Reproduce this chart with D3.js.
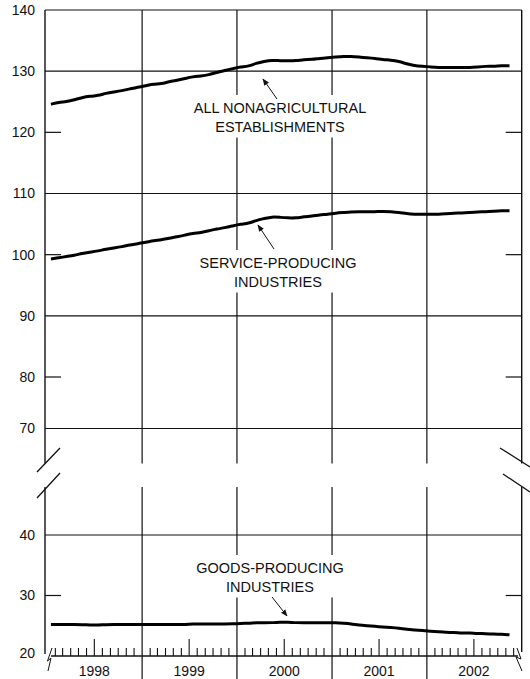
<!DOCTYPE html>
<html>
<head>
<meta charset="utf-8">
<script src="https://cdn.jsdelivr.net/npm/d3@7/dist/d3.min.js"></script>
<style>
  html, body { margin: 0; padding: 0; background: #fff; }
  svg { display: block; }
  text { font-family: "Liberation Sans", Arial, sans-serif; fill: #111; }
</style>
</head>
<body>
<svg id="chart" width="530" height="679"></svg>
<script>
// ---------------- DATA ----------------
const startMonth = "1998-01";
const endMonth = "2002-11";
const yearLabels = ["1998", "1999", "2000", "2001", "2002"];

// Employment, millions, monthly Jan 1998 - Nov 2002
const allNonag = [
  124.6, 124.9, 125.0, 125.3, 125.7, 125.9, 126.0, 126.4, 126.6, 126.8, 127.1, 127.4,
  127.6, 127.9, 127.9, 128.3, 128.5, 128.8, 129.1, 129.2, 129.4, 129.8, 130.1, 130.4,
  130.7, 130.8, 131.3, 131.6, 131.8, 131.7, 131.7, 131.7, 131.9, 131.9, 132.1, 132.2,
  132.3, 132.4, 132.4, 132.3, 132.2, 132.1, 131.9, 131.8, 131.6, 131.2, 130.9, 130.8,
  130.7, 130.6, 130.6, 130.6, 130.6, 130.6, 130.7, 130.8, 130.8, 130.9, 130.9
];
const serviceProducing = [
  99.3, 99.5, 99.7, 99.9, 100.2, 100.4, 100.6, 100.9, 101.1, 101.3, 101.6, 101.8,
  102.0, 102.3, 102.4, 102.7, 102.9, 103.2, 103.5, 103.6, 103.9, 104.2, 104.4, 104.7,
  105.0, 105.1, 105.6, 105.9, 106.2, 106.1, 106.0, 106.0, 106.2, 106.3, 106.5, 106.6,
  106.8, 106.9, 107.0, 107.0, 107.0, 107.0, 107.1, 107.0, 106.9, 106.7, 106.6, 106.6,
  106.6, 106.6, 106.7, 106.8, 106.8, 106.9, 107.0, 107.0, 107.1, 107.2, 107.2
];
const goodsProducing = [
  25.2, 25.2, 25.2, 25.2, 25.2, 25.1, 25.1, 25.2, 25.2, 25.2, 25.2, 25.2,
  25.2, 25.2, 25.2, 25.2, 25.2, 25.2, 25.3, 25.3, 25.3, 25.3, 25.3, 25.3,
  25.4, 25.4, 25.5, 25.5, 25.5, 25.6, 25.6, 25.5, 25.5, 25.5, 25.5, 25.5,
  25.5, 25.4, 25.3, 25.1, 25.0, 24.9, 24.8, 24.7, 24.6, 24.4, 24.3, 24.2,
  24.1, 24.0, 23.9, 23.9, 23.8, 23.8, 23.7, 23.7, 23.6, 23.6, 23.5
];

const topGridValues = [140, 130, 110, 90, 70];
const topMinorValues = [120, 100, 80];
const topLabels = [140, 130, 120, 110, 100, 90, 80, 70];
const bottomGridValues = [40];
const bottomMinorValues = [30];
const bottomLabels = [40, 30, 20];

// ---------------- SETUP ----------------
const svg = d3.select("#chart");
const parseMonth = d3.timeParse("%Y-%m");
const months = d3.timeMonth.range(parseMonth(startMonth), d3.timeMonth.offset(parseMonth(endMonth), 1));
const plotDate = m => d3.timeDay.offset(m, 14);

const x = d3.scaleTime()
  .domain([new Date(1998, 0, 1), new Date(2003, 0, 1)])
  .range([47.3, 521.7]);
const yTop = d3.scaleLinear().domain([70, 80, 140]).range([428.5, 377, 10]);
const yBot = d3.scaleLinear().domain([20, 40]).range([656, 535]);

const xL = 45, xR = x.range()[1];
const yTopEdge = yTop(140), yAxis = yBot(20);
const gridW = 1.2;

const g = svg.append("g");

// horizontal gridlines
g.selectAll(".hgT").data(topGridValues).join("line")
  .attr("x1", xL).attr("x2", xR)
  .attr("y1", d => yTop(d)).attr("y2", d => yTop(d))
  .attr("stroke", "#111").attr("stroke-width", gridW);
g.selectAll(".hgB").data(bottomGridValues).join("line")
  .attr("x1", xL).attr("x2", xR)
  .attr("y1", d => yBot(d)).attr("y2", d => yBot(d))
  .attr("stroke", "#111").attr("stroke-width", gridW);

// minor ticks both sides
function minorTicks(vals, sc) {
  vals.forEach(v => {
    g.append("line").attr("x1", xL).attr("x2", xL + 16)
      .attr("y1", sc(v)).attr("y2", sc(v))
      .attr("stroke", "#111").attr("stroke-width", gridW);
    g.append("line").attr("x1", xR - 16).attr("x2", xR)
      .attr("y1", sc(v)).attr("y2", sc(v))
      .attr("stroke", "#111").attr("stroke-width", gridW);
  });
}
minorTicks(topMinorValues, yTop);
minorTicks(bottomMinorValues, yBot);

// vertical year boundaries (extend between year labels)
const yearStarts = yearLabels.map(y => new Date(+y, 0, 1)).slice(1);
g.selectAll(".vg").data(yearStarts).join("line")
  .attr("x1", d => x(d)).attr("x2", d => x(d))
  .attr("y1", yTopEdge).attr("y2", 679)
  .attr("stroke", "#111").attr("stroke-width", gridW);

// frame sides
g.append("line").attr("x1", xL).attr("x2", xL).attr("y1", yTopEdge).attr("y2", yAxis - 2)
  .attr("stroke", "#111").attr("stroke-width", gridW + 0.2);
g.append("line").attr("x1", xR).attr("x2", xR).attr("y1", yTopEdge).attr("y2", yAxis - 4)
  .attr("stroke", "#111").attr("stroke-width", gridW + 0.2);

// bottom axis
g.append("line").attr("x1", 51).attr("x2", 518).attr("y1", yAxis).attr("y2", yAxis)
  .attr("stroke", "#111").attr("stroke-width", gridW + 0.2);
const tickMonths = d3.timeMonth.range(new Date(1998, 0, 1), new Date(2003, 0, 1)).filter(d => d.getMonth() !== 0);
g.selectAll(".mt").data(tickMonths).join("line")
  .attr("x1", d => x(d)).attr("x2", d => x(d))
  .attr("y1", yAxis).attr("y2", d => yAxis - (d.getMonth() === 6 ? 17 : 8))
  .attr("stroke", "#111").attr("stroke-width", 1.1);

// axis break squiggles at axis ends
g.append("path").attr("d", `M52,${yAxis - 8} L47.5,${yAxis + 5} L51,${yAxis + 2} L48,${yAxis + 15}`)
  .attr("fill", "none").attr("stroke", "#111").attr("stroke-width", 1);
g.append("path").attr("d", `M517,${yAxis - 8} L521,${yAxis + 3} L516,${yAxis + 1} L522,${yAxis + 15}`)
  .attr("fill", "none").attr("stroke", "#111").attr("stroke-width", 1);

// year labels
g.selectAll(".yl").data(yearLabels).join("text")
  .attr("x", d => x(new Date(+d, 6, 1)))
  .attr("y", 676)
  .attr("text-anchor", "middle")
  .attr("font-size", 14)
  .text(d => d);

// y labels
g.selectAll(".tl").data(topLabels).join("text")
  .attr("x", 35).attr("y", d => yTop(d))
  .attr("dy", "0.35em").attr("text-anchor", "end").attr("font-size", 14)
  .text(d => d);
g.selectAll(".bl").data(bottomLabels).join("text")
  .attr("x", 35).attr("y", d => yBot(d) - (d === 20 ? 3 : 0))
  .attr("dy", "0.35em").attr("text-anchor", "end").attr("font-size", 14)
  .text(d => d);

// annotation labels with white masks (interrupt gridlines)
const annotations = [
  { lines: ["ALL NONAGRICULTURAL", "ESTABLISHMENTS"], cx: 280, y0: 113, tail: [277, 99], tip: [263, 79] },
  { lines: ["SERVICE-PRODUCING", "INDUSTRIES"], cx: 278, y0: 268, tail: [274, 249], tip: [258, 225] },
  { lines: ["GOODS-PRODUCING", "INDUSTRIES"], cx: 270, y0: 573, tail: [272, 597], tip: [287, 616] }
];
const annG = svg.append("g");
annotations.forEach(a => {
  const mask = annG.append("rect").attr("fill", "#fff");
  const t = annG.append("text").attr("font-size", 14.5).attr("text-anchor", "middle");
  a.lines.forEach((l, i) => {
    t.append("tspan").attr("x", a.cx).attr("y", a.y0 + i * 18.5).text(l);
  });
  const bb = t.node().getBBox();
  mask.attr("x", bb.x - 4).attr("y", bb.y - 5).attr("width", bb.width + 8).attr("height", bb.height + 8);
});

// break band
svg.append("rect").attr("x", 30).attr("y", 463.5).attr("width", 500).attr("height", 23.5).attr("fill", "#fff");
const slashes = [
  [[37, 472], [60, 448]], [[37, 498], [60, 473]],
  [[500, 448], [530, 467]], [[503, 474], [530, 492]]
];
svg.selectAll(".sl").data(slashes).join("line")
  .attr("x1", d => d[0][0]).attr("y1", d => d[0][1])
  .attr("x2", d => d[1][0]).attr("y2", d => d[1][1])
  .attr("stroke", "#111").attr("stroke-width", 1.3);

// arrow marker
svg.append("defs").append("marker")
  .attr("id", "arr").attr("viewBox", "0 0 10 10").attr("refX", 9).attr("refY", 5)
  .attr("markerWidth", 7).attr("markerHeight", 7).attr("markerUnits", "userSpaceOnUse")
  .attr("orient", "auto")
  .append("path").attr("d", "M0,1 L10,5 L0,9 Z").attr("fill", "#111");
annotations.forEach(a => {
  svg.append("line")
    .attr("x1", a.tail[0]).attr("y1", a.tail[1])
    .attr("x2", a.tip[0]).attr("y2", a.tip[1])
    .attr("stroke", "#111").attr("stroke-width", 1)
    .attr("marker-end", "url(#arr)");
});

// data lines
const lineTop = d3.line().x((d, i) => x(plotDate(months[i]))).y(d => yTop(d)).curve(d3.curveBasis);
const lineBot = d3.line().x((d, i) => x(plotDate(months[i]))).y(d => yBot(d)).curve(d3.curveBasis);
[allNonag, serviceProducing].forEach(s => {
  svg.append("path").datum(s).attr("d", lineTop)
    .attr("fill", "none").attr("stroke", "#000").attr("stroke-width", 3)
    .attr("stroke-linejoin", "round");
});
svg.append("path").datum(goodsProducing).attr("d", lineBot)
  .attr("fill", "none").attr("stroke", "#000").attr("stroke-width", 3)
  .attr("stroke-linejoin", "round");
</script>
</body>
</html>
